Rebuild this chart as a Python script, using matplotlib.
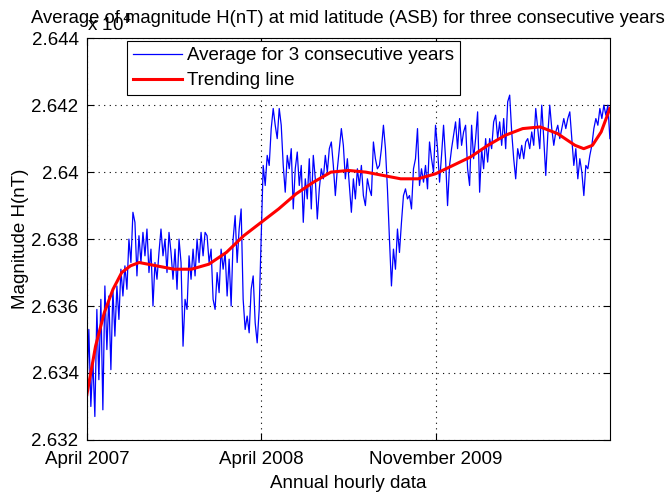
"""
Average magnitude H(nT) at ASB over three years, with trend line
"""

import numpy as np
import matplotlib
matplotlib.use("Agg")
import matplotlib.pyplot as plt

plt.rcParams['font.family'] = ['Liberation Sans', 'DejaVu Sans']

# hourly average values (nT) left to right
h_avg = [
    # Apr 2007 - steep rise
    26334, 26353, 26330, 26344, 26327, 26359, 26338, 26362, 26329, 26366,
    26347, 26363, 26341, 26365, 26351, 26366, 26356, 26371,
    26363, 26372, 26365, 26380, 26373, 26388, 26385, 26369, 26381, 26373,
    26382, 26375, 26383, 26370, 26377, 26360, 26373, 26368, 26376, 26383,
    26375, 26380, 26370, 26382, 26376, 26368, 26377, 26365, 26380, 26373,
    26348, 26362,
    26359, 26375, 26368, 26377, 26369, 26380, 26373, 26382, 26375, 26382,
    26381, 26373, 26377, 26362, 26359, 26370, 26364, 26377, 26371, 26376,
    26363, 26374, 26360, 26380, 26387, 26373, 26383, 26389, 26362, 26353,
    26357, 26352, 26365, 26369, 26355, 26349, 26359, 26380,
    # Apr 2008 - jump
    26402, 26396, 26405, 26402, 26413, 26419, 26414, 26410, 26419, 26414,
    26402, 26394, 26405, 26401, 26407, 26389, 26401, 26406, 26396, 26402,
    26385, 26398, 26392, 26404, 26389, 26405, 26398, 26386, 26395, 26401,
    26398, 26405, 26400, 26407, 26409, 26402, 26393, 26401, 26407, 26413,
    26408, 26398, 26404, 26396, 26388, 26398, 26392, 26401, 26396, 26402,
    26393, 26390, 26398, 26395, 26393, 26409, 26404, 26401, 26402, 26407,
    26414, 26407, 26395, 26380, 26366, 26377, 26371, 26383, 26376, 26385,
    26393, 26395, 26392, 26393, 26389, 26401, 26404, 26413, 26396, 26401,
    26397, 26402, 26395, 26409, 26404, 26400, 26414, 26407, 26397, 26405,
    26414, 26404, 26390, 26402, 26407, 26411, 26415, 26407, 26416, 26408,
    26412,
    26414, 26401, 26396, 26414, 26404, 26410, 26418, 26394, 26407, 26401,
    26410, 26403, 26410, 26407, 26415, 26417, 26410, 26415, 26408, 26416,
    26407, 26421, 26423, 26412, 26404, 26398, 26407, 26404, 26408, 26404,
    26409, 26410, 26407, 26412, 26408, 26419, 26413, 26407, 26420, 26410,
    26399, 26411, 26420, 26413, 26408, 26412, 26414, 26410, 26413, 26416,
    26413, 26416, 26418, 26410, 26402, 26407, 26398, 26404, 26400, 26393,
    26402, 26401, 26405, 26408, 26413, 26416, 26414, 26419, 26416, 26420,
    26417, 26420, 26410,
]

# trend line (nT) at time positions in years from April 2007
trend_t = [0.0, 0.05, 0.1, 0.15, 0.2, 0.25, 0.3, 0.4, 0.5, 0.6, 0.7, 0.8,
           0.9, 1.0, 1.1, 1.2, 1.3, 1.4, 1.5, 1.6, 1.7, 1.8, 1.9, 2.0, 2.1,
           2.2, 2.3, 2.4, 2.5, 2.6, 2.7, 2.8, 2.85, 2.9, 2.95, 3.0]
trend_h = [26333.5, 26348, 26358, 26365, 26370, 26372, 26373, 26372,
           26371, 26371, 26372.5, 26376, 26381, 26385, 26389, 26393.5,
           26397, 26400, 26400.5, 26400, 26399, 26398, 26398, 26399.5,
           26402, 26404.5, 26408, 26411, 26413, 26413.5, 26411.5, 26408,
           26407, 26408, 26412, 26419]

x_ticks = [0, 1, 2]
x_labels = ["April 2007", "April 2008", "November 2009"]
y_ticks = [2.632, 2.634, 2.636, 2.638, 2.640, 2.642, 2.644]
y_labels = ["2.632", "2.634", "2.636", "2.638", "2.64", "2.642", "2.644"]

FS = 13.5

t = np.linspace(0, 3, len(h_avg))

fig = plt.figure(figsize=(6.68, 4.96), dpi=100, facecolor='white')
ax = fig.add_axes([0.130, 0.113, 0.783, 0.810])

ax.plot(t, np.array(h_avg) / 1e4, color=(0, 0, 1), linewidth=0.9,
        label="Average for 3 consecutive years")
ax.plot(trend_t, np.array(trend_h) / 1e4, color=(1, 0, 0), linewidth=2.2,
        label="Trending line")

ax.set_xlim(0, 3)
ax.set_ylim(2.632, 2.644)
ax.set_xticks(x_ticks)
ax.set_xticklabels(x_labels)
ax.set_yticks(y_ticks)
ax.set_yticklabels(y_labels)
ax.tick_params(direction='in', top=True, right=True, labelsize=FS,
               length=5, width=0.8)
ax.tick_params(axis='x', pad=8)
ax.tick_params(axis='y', pad=6)

# MATLAB style dotted grid
ax.grid(True, linestyle=(0, (1, 4)), color='black', linewidth=0.8)
for sp in ax.spines.values():
    sp.set_linewidth(0.8)

ax.set_xlabel("Annual hourly data", fontsize=FS, labelpad=5)
ax.set_ylabel("Magnitude H(nT)", fontsize=FS, labelpad=2)
ax.set_title("Average of magnitude H(nT) at mid latitude (ASB) for three consecutive years",
             fontsize=13.3, pad=11)

# exponent label, drawn like MATLAB does
ax.text(0.0, 1.008, r"x 10$^4$", transform=ax.transAxes, fontsize=FS,
        ha='left', va='bottom')

leg = ax.legend(loc='upper left', bbox_to_anchor=(0.0765, 0.9925),
                borderaxespad=0, fontsize=FS, fancybox=False,
                edgecolor='black', framealpha=1, handlelength=2.6,
                handletextpad=0.3, labelspacing=0.42, borderpad=0.32)
leg.get_frame().set_linewidth(0.8)

fig.savefig("out.png", dpi=100, facecolor='white')
